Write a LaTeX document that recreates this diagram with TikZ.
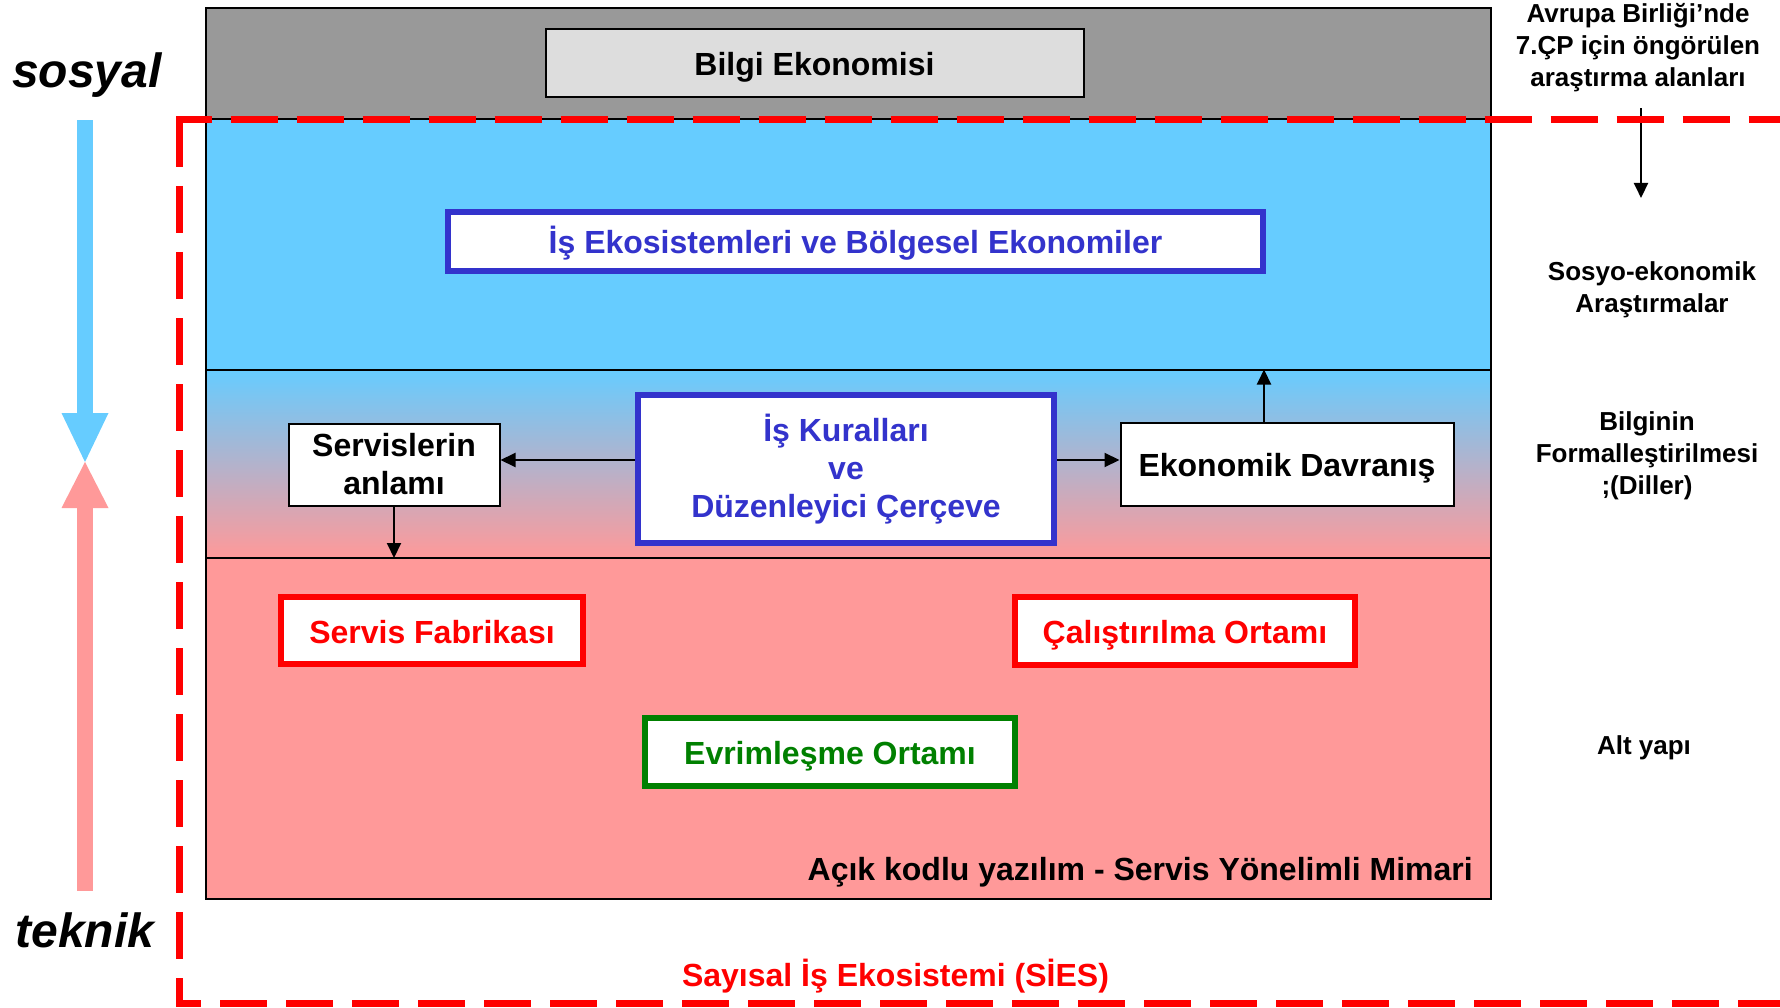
\documentclass[tikz,border=0pt]{standalone}
\usepackage{fontspec}
\setmainfont{Liberation Sans}
\usetikzlibrary{arrows.meta}
\definecolor{gris}{HTML}{999999}
\definecolor{grisclair}{HTML}{DDDDDD}
\definecolor{bleuciel}{HTML}{66CCFF}
\definecolor{rose}{HTML}{FF9999}
\definecolor{bleu}{HTML}{3333CC}
\definecolor{rouge}{HTML}{FF0000}
\definecolor{vert}{HTML}{008000}
\begin{document}
\begin{tikzpicture}[x=1pt,y=-1pt]
% Styles
\tikzstyle{cadre}=[line width=2pt]
\tikzstyle{fleche}=[-{Triangle[length=15pt,width=14pt]},line width=2pt]
\tikzstyle{pointille}=[rouge,line width=7pt,dash pattern=on 47pt off 19pt]
\tikzstyle{boite}=[draw,fill=white,inner sep=0pt,align=center,font=\fontsize{32}{38}\selectfont\bfseries]
\tikzstyle{uneligne}=[text height=25pt,text depth=0pt]
\tikzstyle{boitenoire}=[boite,line width=2pt]
\tikzstyle{boitebleue}=[boite,draw=bleu,text=bleu,line width=6pt]
\tikzstyle{boiterouge}=[boite,uneligne,draw=rouge,text=rouge,line width=6pt]
\tikzstyle{boiteverte}=[boite,uneligne,draw=vert,text=vert,line width=6pt]
\tikzstyle{legende}=[align=center,inner sep=0pt,font=\fontsize{26}{32}\selectfont\bfseries]
\tikzstyle{titre}=[inner sep=0pt,font=\fontsize{32}{38}\selectfont\bfseries]
\tikzstyle{axe}=[inner sep=0pt,font=\fontsize{48}{48}\selectfont\bfseries\itshape]
% Dimensions
\def\gauche{206}
\def\droite{1491}
\def\haut{8}
\def\ligneA{119}
\def\ligneB{369.5}
\def\ligneC{558}
\def\bas{899}
\def\cadreG{179.5}
\def\cadreH{120}
\def\cadreB{1003.5}
\useasboundingbox (0,0) rectangle (1780,1008);
% Bandes
\fill[gris] (\gauche,\haut) rectangle (\droite,\ligneA);
\fill[bleuciel] (\gauche,\ligneA) rectangle (\droite,\ligneB);
\shade[top color=bleuciel,bottom color=rose] (\gauche,\ligneB) rectangle (\droite,\ligneC);
\fill[rose] (\gauche,\ligneC) rectangle (\droite,\bas);
% Encadrement
\draw[cadre] (\gauche,\haut) rectangle (\droite,\bas);
\draw[cadre] (\gauche,\ligneA) -- (\droite,\ligneA);
\draw[cadre] (\gauche,\ligneB) -- (\droite,\ligneB);
\draw[cadre] (\gauche,\ligneC) -- (\droite,\ligneC);
% Boites
\node[boitenoire,uneligne,fill=grisclair,minimum width=538pt,minimum height=68pt] (bilgi) at (814.5,63.5) {Bilgi Ekonomisi};
\node[boitebleue,uneligne,minimum width=815pt,minimum height=59pt] (isEko) at (855.5,241.5) {İş Ekosistemleri ve Bölgesel Ekonomiler};
\node[boitebleue,minimum width=416pt,minimum height=148pt] (kural) at (846,469) {İş Kuralları\\ve\\Düzenleyici Çerçeve};
\node[boitenoire,minimum width=211pt,minimum height=82pt] (serv) at (394,464.5) {Servislerin\\anlamı};
\node[boitenoire,uneligne,minimum width=333pt,minimum height=83pt] (eko) at (1287,464) {Ekonomik Davranış};
\node[boiterouge,minimum width=302pt,minimum height=67pt] (fabrika) at (432,630.5) {Servis Fabrikası};
\node[boiterouge,minimum width=340pt,minimum height=68pt] (calis) at (1185,631) {Çalıştırılma Ortamı};
\node[boiteverte,minimum width=370pt,minimum height=68pt] (evrim) at (830,752) {Evrimleşme Ortamı};
\node[titre,anchor=base east] (acik) at (1473,880) {Açık kodlu yazılım - Servis Yönelimli Mimari};
\node[titre,anchor=base,text=rouge] (sayisal) at (895.5,986) {Sayısal İş Ekosistemi (SİES)};
% Fleches
\coordinate (niveau) at (0,460);
\coordinate (ligneEko) at (1264,\ligneB);
\coordinate (ligneServ) at (394,\ligneC);
\coordinate (flecheAvrupa) at (1641,198);
\draw[fleche] (kural.west |- niveau) -- (serv.east |- niveau);
\draw[fleche] (kural.east |- niveau) -- (eko.west |- niveau);
\draw[fleche] (ligneEko |- eko.north) -- (ligneEko);
\draw[fleche] (serv.south) -- (ligneServ);
% Colonne de droite
\node[legende] (avrupa) at (1638,48) {Avrupa Birliği’nde\\7.ÇP için öngörülen\\araştırma alanları};
\node[legende] (sosyo) at (1652,290) {Sosyo-ekonomik\\Araştırmalar};
\node[legende] (bilginin) at (1647,455.5) {Bilginin\\Formalleştirilmesi\\;(Diller)};
\node[legende] (altyapi) at (1644,748) {Alt yapı};
\draw[fleche,shorten <=16pt] (flecheAvrupa |- avrupa.south) -- (flecheAvrupa);
% Axe sosyal / teknik
\node[axe,anchor=base] (sosyal) at (87,88) {sosyal};
\node[axe,anchor=base] (teknik) at (85,947) {teknik};
\fill[bleuciel] (77,120) rectangle (93,414);
\fill[bleuciel] (61.5,413) -- (108.5,413) -- (85,462) -- cycle;
\fill[rose] (61.5,508) -- (108.5,508) -- (85,462) -- cycle;
\fill[rose] (77,507) rectangle (93,891);
% Cadre SIES
\draw[pointille,dash phase=11.5pt] (176,\cadreH) -- (1780,\cadreH);
\draw[pointille] (\cadreG,\cadreH) -- (\cadreG,\cadreB) -- (1780,\cadreB);
\end{tikzpicture}
\end{document}
